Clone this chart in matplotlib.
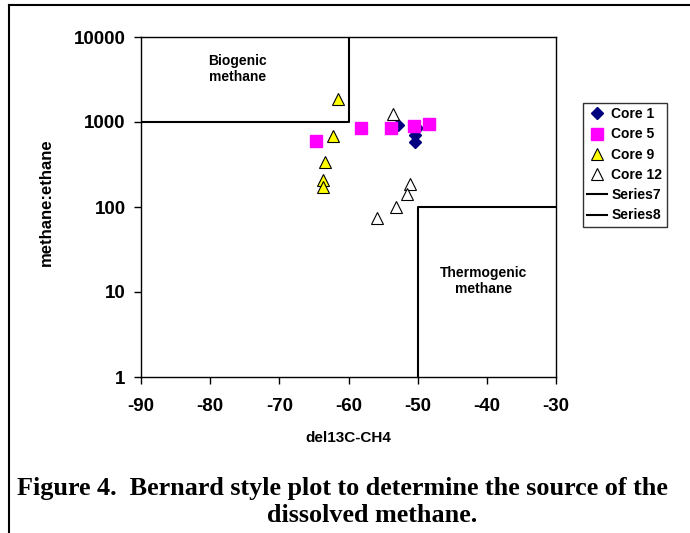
import matplotlib
matplotlib.use("Agg")
import matplotlib.pyplot as plt
from matplotlib.lines import Line2D

# Data
core1_x = [-52.8, -50.1, -50.4, -50.4]
core1_y = [920, 840, 700, 580]
core5_x = [-64.7, -58.2, -53.9, -50.6, -48.4]
core5_y = [600, 840, 855, 895, 940]
core9_x = [-61.5, -62.3, -63.4, -63.7, -63.7]
core9_y = [1850, 685, 335, 208, 171]
core12_x = [-53.6, -51.1, -51.5, -53.2, -55.9]
core12_y = [1230, 187, 142, 100, 75]
series7_x = [-90, -60, -60]
series7_y = [1000, 1000, 10000]
series8_x = [-50, -50, -30]
series8_y = [1, 100, 100]
x_ticks = [-90, -80, -70, -60, -50, -40, -30]
y_ticks = [1, 10, 100, 1000, 10000]

fig = plt.figure(figsize=(6.9, 5.33), dpi=100)
ax = fig.add_axes([141/690, 1-377/533, 415/690, 340/533])

ax.plot(series7_x, series7_y, color='black', lw=1.5, label='Series7', zorder=2)
ax.plot(series8_x, series8_y, color='black', lw=1.5, label='Series8', zorder=2)
ax.plot(core1_x, core1_y, 'D', color='#000080', ms=6.5, mec='#000080', ls='none', label='Core 1', zorder=3)
ax.plot(core5_x, core5_y, 's', color='#FF00FF', ms=8, mec='#FF00FF', ls='none', label='Core 5', zorder=3)
ax.plot(core9_x, core9_y, '^', color='#FFFF00', ms=8.5, mec='black', mew=0.8, ls='none', label='Core 9', zorder=3)
ax.plot(core12_x, core12_y, '^', color='white', ms=8.5, mec='black', mew=0.8, ls='none', label='Core 12', zorder=3)

ax.set_yscale('log')
ax.set_xlim(-90, -30)
ax.set_ylim(1, 10000)
ax.set_xticks(x_ticks)
ax.set_xticklabels([str(v) for v in x_ticks])
ax.set_yticks(y_ticks)
ax.set_yticklabels([str(v) for v in y_ticks])
ax.minorticks_off()
ax.tick_params(direction='out', length=5, width=1, labelsize=13.5)
ax.tick_params(axis='x', pad=10)
ax.tick_params(axis='y', pad=6)
for lab in ax.get_xticklabels() + ax.get_yticklabels():
    lab.set_fontweight('bold')
    lab.set_family('Liberation Sans')
for s in ax.spines.values():
    s.set_linewidth(1.0)

ax.set_xlabel('del13C-CH4', fontsize=11, fontweight='bold', family='Liberation Sans', labelpad=12)
ax.set_ylabel('methane:ethane', fontsize=12, fontweight='bold', family='Liberation Sans', labelpad=10)
ax.yaxis.set_label_coords(-0.209, 0.515)

ax.text(-76.1, 4200, 'Biogenic\nmethane', ha='center', va='center', fontsize=10,
        fontweight='bold', family='Liberation Sans', linespacing=1.15)
ax.text(-40.5, 13.5, 'Thermogenic\nmethane', ha='center', va='center', fontsize=10,
        fontweight='bold', family='Liberation Sans', linespacing=1.2)

handles, labels = ax.get_legend_handles_labels()
order = [2, 3, 4, 5, 0, 1]
leg = fig.legend([handles[i] for i in order], [labels[i] for i in order],
                 loc='upper left', bbox_to_anchor=(583/690, 1-103/533),
                 prop={'family': 'Liberation Sans', 'weight': 'bold', 'size': 10},
                 frameon=True, fancybox=False, edgecolor='black', borderpad=0.3,
                 handlelength=1.45, handletextpad=0.3, labelspacing=0.45, borderaxespad=0)
leg.get_frame().set_linewidth(1.0)

# outer frame lines
fig.add_artist(Line2D([9/690, 9/690], [0, 1-5/533], transform=fig.transFigure, color='black', lw=1.5))
fig.add_artist(Line2D([9/690, 1], [1-5/533, 1-5/533], transform=fig.transFigure, color='black', lw=1.5))

fig.text(17/690, 1-489/533, 'Figure 4.  Bernard style plot to determine the source of the',
         ha='left', va='center', fontsize=18.8, fontweight='bold', family='Liberation Serif')
fig.text(372/690, 1-516/533, 'dissolved methane.', ha='center', va='center', fontsize=18.8,
         fontweight='bold', family='Liberation Serif')

fig.savefig('out.png', dpi=100)
